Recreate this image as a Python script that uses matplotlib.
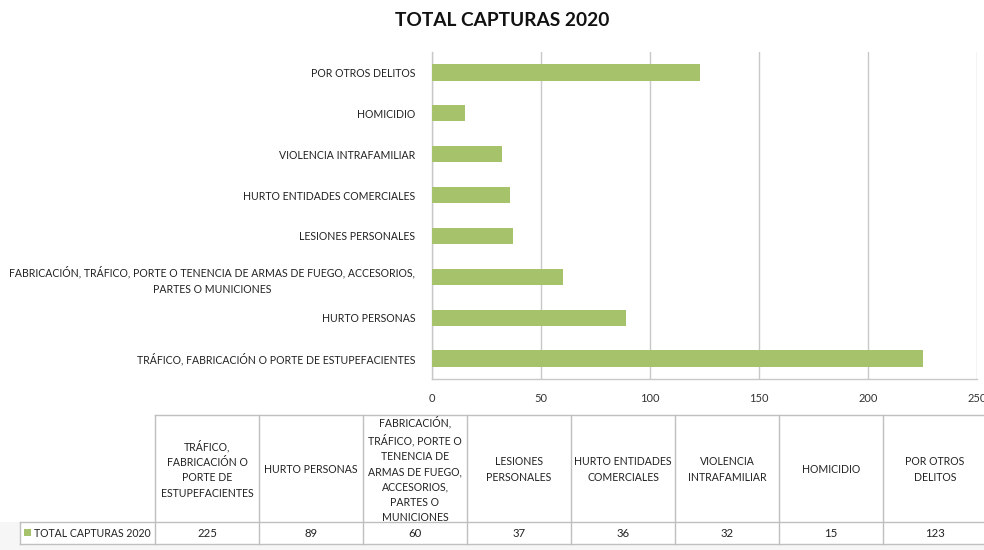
import matplotlib
matplotlib.use("Agg")
import matplotlib.pyplot as plt
from matplotlib.patches import Rectangle

categories = [
    "TRÁFICO, FABRICACIÓN O PORTE DE ESTUPEFACIENTES",
    "HURTO PERSONAS",
    "FABRICACIÓN, TRÁFICO, PORTE O TENENCIA DE ARMAS DE FUEGO, ACCESORIOS,\nPARTES O MUNICIONES",
    "LESIONES PERSONALES",
    "HURTO ENTIDADES COMERCIALES",
    "VIOLENCIA INTRAFAMILIAR",
    "HOMICIDIO",
    "POR OTROS DELITOS",
]
table_headers = [
    "TRÁFICO,\nFABRICACIÓN O\nPORTE DE\nESTUPEFACIENTES",
    "HURTO PERSONAS",
    "FABRICACIÓN,\nTRÁFICO, PORTE O\nTENENCIA DE\nARMAS DE FUEGO,\nACCESORIOS,\nPARTES O\nMUNICIONES",
    "LESIONES\nPERSONALES",
    "HURTO ENTIDADES\nCOMERCIALES",
    "VIOLENCIA\nINTRAFAMILIAR",
    "HOMICIDIO",
    "POR OTROS\nDELITOS",
]
values = [225, 89, 60, 37, 36, 32, 15, 123]
series_name = "TOTAL CAPTURAS 2020"
x_ticks = [0, 50, 100, 150, 200, 250]

plt.rcParams['font.family'] = ['Lato', 'DejaVu Sans']
BAR = '#a6c26a'
GRID = '#c8c8c8'
W, H = 984, 550

fig = plt.figure(figsize=(W / 100, H / 100), dpi=100)
fig.patch.set_facecolor('white')

tax = fig.add_axes([0, 0, 1, 1], zorder=0)
tax.set_xlim(0, W)
tax.set_ylim(H, 0)
tax.axis('off')

ax = fig.add_axes([432 / W, 1 - 379 / H, (977 - 432) / W, (379 - 52) / H], zorder=1)
ax.set_facecolor('none')
ypos = list(range(len(categories)))
ax.barh(ypos, values, height=0.4, color=BAR, zorder=3)
ax.set_xlim(0, 250)
ax.set_ylim(-0.5, len(categories) - 0.5)
ax.set_xticks(x_ticks)
ax.set_xticklabels([str(t) for t in x_ticks], fontsize=8, color='#333333')
ax.set_yticks(ypos)
ax.set_yticklabels(categories, fontsize=7.6, color='#222222',
                   multialignment='center', linespacing=1.6)
ax.tick_params(axis='both', length=0)
ax.tick_params(axis='y', pad=12)
ax.tick_params(axis='x', pad=10)
ax.xaxis.grid(True, color=GRID, linewidth=1)
ax.set_axisbelow(True)
for s in ['top', 'right']:
    ax.spines[s].set_visible(False)
for s in ['left', 'bottom']:
    ax.spines[s].set_color(GRID)
    ax.spines[s].set_linewidth(1)

fig.text(502 / W, 1 - 20 / H, series_name, ha='center', va='center',
         fontsize=13.8, fontweight='bold', color='#111111')

# data table
x0, colw = 155, 104
top, mid, bot = 415, 522, 544
label_x0 = 20
tax.add_patch(Rectangle((0, mid), W, H - mid, facecolor='#f6f6f6', edgecolor='none'))
tax.add_patch(Rectangle((label_x0, mid), x0 + colw * len(values) - label_x0, bot - mid,
                        facecolor='white', edgecolor='none'))
lc = '#bfbfbf'
ncol = len(values)
xr = x0 + colw * ncol
tax.plot([x0, xr], [top, top], color=lc, lw=1)
tax.plot([label_x0, xr], [mid, mid], color=lc, lw=1)
tax.plot([label_x0, xr], [bot, bot], color=lc, lw=1)
tax.plot([label_x0, label_x0], [mid, bot], color=lc, lw=1)
for i in range(ncol + 1):
    xx = x0 + colw * i
    tax.plot([xx, xx], [top, bot], color=lc, lw=1)
for i, (hd, v) in enumerate(zip(table_headers, values)):
    cx = x0 + colw * (i + 0.5)
    tax.text(cx, (top + mid) / 2 + 1, hd, ha='center', va='center', fontsize=7.6,
             color='#222222', linespacing=1.48)
    tax.text(cx, (mid + bot) / 2 + 0.5, str(v), ha='center', va='center', fontsize=8.2,
             color='#222222')
tax.add_patch(Rectangle((24, 529), 7, 7, facecolor=BAR, edgecolor='none'))
tax.text(34, (mid + bot) / 2 + 0.5, series_name, ha='left', va='center', fontsize=7.6,
         color='#222222')

fig.savefig('out.png', dpi=100)
